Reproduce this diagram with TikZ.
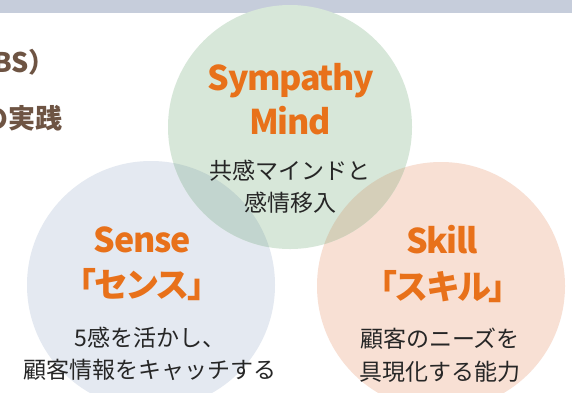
\documentclass[tikz,border=0pt]{standalone}
\usepackage{fontspec}
\newfontfamily\jp{Noto Sans CJK JP}
\newfontfamily\jptitle{Noto Sans CJK JP}[LetterSpace=-4]
\newfontfamily\jpkana{Noto Sans CJK JP}[LetterSpace=-8]
\definecolor{band}{HTML}{C6CDDB}
\definecolor{gfill}{HTML}{D7E7D9}
\definecolor{bfill}{HTML}{E4E9F1}
\definecolor{ofill}{HTML}{F8E0D4}
\definecolor{gbfill}{HTML}{C2D5CF}
\definecolor{gofill}{HTML}{D5CFB9}
\definecolor{orangetxt}{HTML}{E8711A}
\definecolor{darktxt}{HTML}{262626}
\definecolor{browntxt}{HTML}{6E5443}
\tikzset{
  title/.style={anchor=base, inner sep=0pt, text=orangetxt, font=\jptitle\bfseries\fontsize{34}{34}\selectfont},
  kana/.style={anchor=base, inner sep=0pt, text=orangetxt, font=\jpkana\bfseries\fontsize{34}{34}\selectfont},
  body/.style={anchor=base, inner sep=0pt, text=darktxt, font=\jp\fontsize{23}{23}\selectfont},
  side/.style={anchor=base west, inner sep=0pt, text=browntxt, font=\jp\bfseries\fontsize{27}{27}\selectfont}
}
\begin{document}
\begin{tikzpicture}[x=1pt,y=-1pt]
\useasboundingbox (0,0) rectangle (572,392);
\clip (0,0) rectangle (572,392);
\fill[white] (0,0) rectangle (572,392);
\fill[band] (0,0) rectangle (572,13);
\coordinate (cb) at (151,285);
\coordinate (cg) at (290,127);
\coordinate (co) at (441,286);
\fill[bfill] (cb) circle[radius=124pt];
\fill[ofill] (co) circle[radius=124pt];
\fill[gfill] (cg) circle[radius=122pt];
\begin{scope}
  \clip (cg) circle[radius=122pt];
  \fill[gbfill] (cb) circle[radius=124pt];
  \fill[gofill] (co) circle[radius=124pt];
\end{scope}
% side text
\node[side] (s1) at (-7,72) {BS）};
\node[side] (s2) at (-19,128) {の実践};
% green
\node[title] (g1) at (291,90) {Sympathy};
\node[title] (g2) at (290,134) {Mind};
\node[body] (g3) at (290,179) {共感マインドと};
\node[body] (g4) at (290,211) {感情移入};
% blue
\node[title] (b1) at (142,252) {Sense};
\node[kana] (b2) at (142,297) {「センス」};
\node[body] (b3) at (150,346) {5感を活かし、};
\node[body] (b4) at (150,378) {顧客情報をキャッチする};
% orange
\node[title] (o1) at (442,253) {Skill};
\node[kana] (o2) at (443,299) {「スキル」};
\node[body] (o3) at (440,347) {顧客のニーズを};
\node[body] (o4) at (440,380) {具現化する能力};
\end{tikzpicture}
\end{document}
